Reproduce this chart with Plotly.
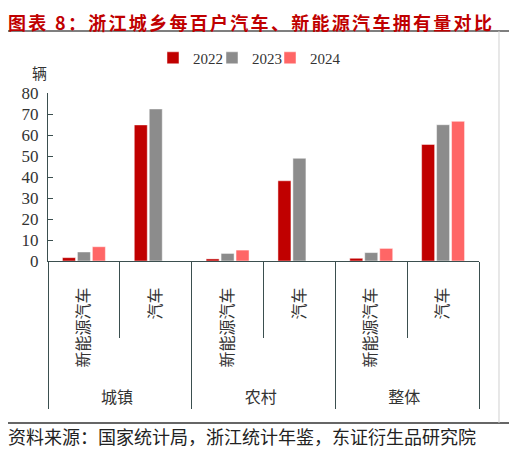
import plotly.graph_objects as go

groups = ["城镇", "城镇", "农村", "农村", "整体", "整体"]
subs = ["新能源汽车", "汽车", "新能源汽车", "汽车", "新能源汽车", "汽车"]
y2022 = [1.6, 64.8, 1.0, 38.2, 1.3, 55.5]
y2023 = [4.3, 72.4, 3.6, 48.9, 4.0, 64.9]
y2024 = [6.8, None, 5.2, None, 6.0, 66.5]

colors = {"2022": "#C00000", "2023": "#8C8C8C", "2024": "#FF6666"}
axis_col = "#3B4F4F"
serif = "Liberation Serif, Times New Roman, serif"
cjk = "Noto Sans CJK SC"

# leading blank space under the long rotated labels pushes the group row further down
pad = "\u3000\u2002"
sub_labels = [pad + s if len(s) > 2 else s for s in subs]

fig = go.Figure()
series = [("2022", y2022, "legend"), ("2023", y2023, "legend2"), ("2024", y2024, "legend3")]
for name, vals, lg in series:
    fig.add_trace(go.Bar(x=[groups, sub_labels], y=vals, name=name, legend=lg,
                         marker=dict(color=colors[name], line=dict(color="rgba(255,255,255,0.6)", width=0.8))))

legend_style = dict(orientation="h", xanchor="left", y=1.208, yanchor="middle",
                    font=dict(family=serif, size=15, color="#333333"), bgcolor="rgba(0,0,0,0)")

# page has an 8px body margin, so the figure is 8px smaller than the window
fig.update_layout(
    width=509, height=443,
    margin=dict(l=40, r=38, t=85, b=190),
    paper_bgcolor="white", plot_bgcolor="white",
    barmode="group", bargap=0.375, bargroupgap=0.13,
    showlegend=True,
    legend=dict(x=0.2436, **legend_style),
    legend2=dict(x=0.3805, **legend_style),
    legend3=dict(x=0.5151, **legend_style),
    xaxis=dict(type="multicategory", showline=True, linecolor=axis_col, linewidth=1.2,
               ticks="outside", tickson="boundaries", ticklen=76, tickcolor=axis_col,
               tickangle=-90, showdividers=True, dividercolor=axis_col, dividerwidth=1.2,
               ticklabelstandoff=19,
               tickfont=dict(family=cjk, size=16, color="#333333")),
    yaxis=dict(range=[0, 80], dtick=10, showgrid=False, zeroline=False,
               showline=True, linecolor=axis_col, linewidth=1.2,
               ticks="inside", ticklen=5, tickcolor=axis_col, ticklabelstandoff=5,
               tickfont=dict(family=serif, size=17, color="#333333")),
)

# title, unit label, source
fig.add_annotation(x=-0.095, xref="paper", xanchor="left", y=1.506, yref="paper", yanchor="top",
                   text="<span style='letter-spacing:2.3px'><b>图表 8：浙江城乡每百户汽车、新能源汽车拥有量对比</b></span>",
                   showarrow=False, borderpad=0,
                   font=dict(family=cjk, size=18, color="#C00000"))
fig.add_annotation(text="辆", xref="paper", yref="paper", x=-0.042, y=1.196, showarrow=False,
                   font=dict(family=cjk, size=15, color="#333333"))
fig.add_annotation(text="资料来源：国家统计局，浙江统计年鉴，东证衍生品研究院", xref="paper", yref="paper",
                   x=-0.097, xanchor="left", y=-1.042, yanchor="middle", showarrow=False,
                   font=dict(family=cjk, size=18, color="#222222"))

# frame lines
fig.add_shape(type="line", xref="paper", yref="paper", x0=-0.0998, x1=1.0766, y0=1.369, y1=1.369,
              line=dict(color="#555555", width=1.5))
fig.add_shape(type="line", xref="paper", yref="paper", x0=-0.0998, x1=1.0766, y0=-0.964, y1=-0.964,
              line=dict(color="#333333", width=1.5))
fig.add_shape(type="line", xref="paper", yref="paper", x0=1.0464, x1=1.0464, y0=1.369, y1=-0.964,
              line=dict(color="#D0D0D0", width=1))

fig.write_html("out.html")
